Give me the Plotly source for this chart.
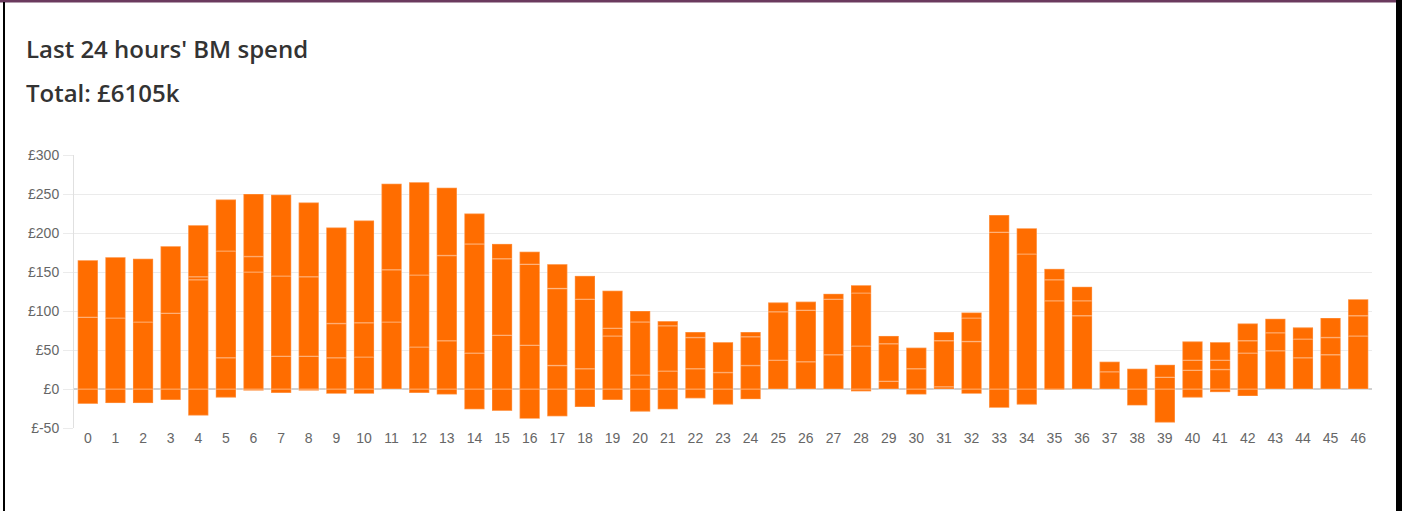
import plotly.graph_objects as go

periods = [str(i) for i in range(47)]

# Top of each bar (positive total, £k)
top = [165, 169, 167, 183, 210, 243, 250, 249, 239, 207, 216,
       263, 265, 258, 225, 186, 176, 160, 145, 126, 100, 87, 73,
       60, 73, 111, 112, 122, 133, 68, 53, 73, 98, 223, 206,
       154, 131, 35, 26, 31, 61, 60, 84, 90, 79, 91, 115]

# Bottom of each bar (negative total, £k)
bottom = [-19, -18, -18, -14, -34, -11, -2, -5, -2, -6, -6,
          0, -5, -7, -26, -28, -38, -35, -23, -14, -29, -26, -12,
          -20, -13, 0, 0, 0, -3, 0, -7, 0, -6, -24, -20,
          -1, 0, 0, -21, -43, -11, -4, -9, 0, 0, 0, 0]

# Visible internal segment boundaries (£k), None where no line is visible
break1 = [92, 91, 86, 97, 140, 40, 150, 42, 42, 40, 41,
          86, 54, 62, 46, 69, 56, 30, 26, 68, 18, 23, 26,
          21, 30, 37, 35, 44, 55, 10, 26, 3, 61, 201, 173,
          113, 94, 22, None, 15, 24, 25, 46, 49, 40, 44, 68]
break2 = [None, None, None, None, 144, 177, 170, 145, 144, 84, 85,
          153, 146, 171, 186, 167, 160, 129, 115, 78, 86, 81, 66,
          None, 67, 99, 101, 115, 123, 58, None, 62, 91, None, None,
          140, 113, None, None, None, 37, 37, 62, 72, 64, 66, 94]

seg1, seg2, seg3 = [], [], []
for t, b1, b2 in zip(top, break1, break2):
    if b1 is None:
        seg1.append(t); seg2.append(None); seg3.append(None)
    elif b2 is None:
        seg1.append(b1); seg2.append(t - b1); seg3.append(None)
    else:
        seg1.append(b1); seg2.append(b2 - b1); seg3.append(t - b2)

orange = "#FF6D00"
line = dict(color="rgba(255,255,255,0.22)", width=1.5)

fig = go.Figure()
for name, vals in [("neg", bottom), ("s1", seg1), ("s2", seg2), ("s3", seg3)]:
    fig.add_trace(go.Bar(x=periods, y=vals, name=name,
                         marker=dict(color=orange, line=line),
                         hoverinfo="skip", showlegend=False))

W, H = 1402, 511
L, R, T, B = 74, 30, 155, 83
pw = W - L - R
ph = H - T - B

def px(x):
    return (x - L) / pw

def py(y):
    return (H - y - B) / ph

title_font = dict(family="Open Sans", size=24, color="#333333", weight=600)

fig.update_layout(
    barmode="relative",
    bargap=0.27,
    width=W, height=H,
    margin=dict(l=L, r=R, t=T, b=B),
    paper_bgcolor="white", plot_bgcolor="white",
    font=dict(family="Liberation Sans, Arial, sans-serif", size=13, color="#666"),
    xaxis=dict(type="category", showgrid=False, showline=False, ticks="",
               tickfont=dict(size=14, color="#666"), range=[-0.5, 46.5]),
    yaxis=dict(range=[-50, 300], tickvals=[-50, 0, 50, 100, 150, 200, 250, 300],
               ticktext=["£-50", "£0", "£50", "£100", "£150", "£200", "£250", "£300"],
               showgrid=True, gridcolor="#ebebeb", gridwidth=1,
               zeroline=True, zerolinecolor="#d0d0d0", zerolinewidth=1.5,
               showline=True, linecolor="#e0e0e0", linewidth=1,
               ticks="outside", ticklen=10, tickcolor="#ebebeb",
               tickfont=dict(size=14, color="#666"), ticklabelstandoff=1),
    annotations=[
        dict(text="Last 24 hours' BM spend", x=px(24), y=py(48), xref="paper", yref="paper",
             showarrow=False, xanchor="left", yanchor="middle", font=title_font),
        dict(text="Total: £6105k", x=px(24), y=py(93), xref="paper", yref="paper",
             showarrow=False, xanchor="left", yanchor="middle", font=title_font),
    ],
)

# frame borders
fig.add_shape(type="rect", xref="paper", yref="paper",
              x0=px(0), x1=px(1396), y0=py(2.5), y1=py(0),
              fillcolor="#6b3a5e", line=dict(width=0), layer="above")
fig.add_shape(type="rect", xref="paper", yref="paper",
              x0=px(3), x1=px(5), y0=py(511), y1=py(2),
              fillcolor="black", line=dict(width=0), layer="above")
fig.add_shape(type="rect", xref="paper", yref="paper",
              x0=px(1396), x1=px(1402), y0=py(511), y1=py(0),
              fillcolor="black", line=dict(width=0), layer="above")

fig.write_html(
    "out.html", config={"displayModeBar": False},
    post_script=("document.documentElement.style.overflow='hidden';"
                 "document.documentElement.style.margin='0';"
                 "document.body.style.margin='0';document.body.style.padding='0';"
                 "document.body.style.overflow='hidden';"))
